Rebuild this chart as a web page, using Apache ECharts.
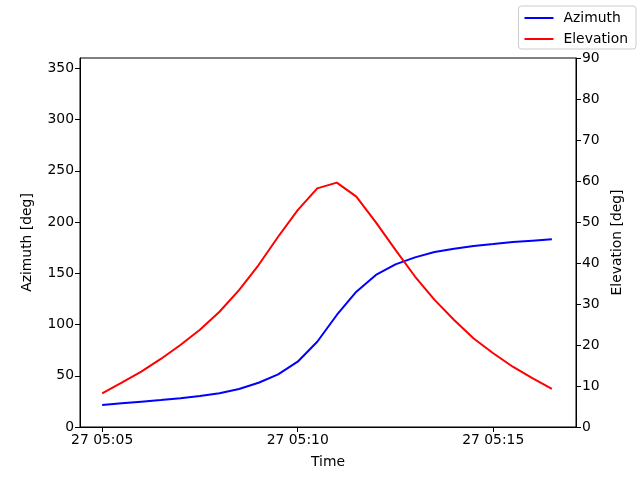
<!DOCTYPE html>
<html>
<head>
<meta charset="utf-8">
<script src="https://cdn.jsdelivr.net/npm/echarts@6/dist/echarts.min.js"></script>
<style>html,body{margin:0;padding:0;background:#fff}#c{width:640px;height:480px}</style>
</head>
<body>
<div id="c"></div>
<script>
const times = ["05:05:00","05:05:30","05:06:00","05:06:30","05:07:00","05:07:30","05:08:00","05:08:30",
  "05:09:00","05:09:30","05:10:00","05:10:30","05:11:00","05:11:30","05:12:00","05:12:30",
  "05:13:00","05:13:30","05:14:00","05:14:30","05:15:00","05:15:30","05:16:00","05:16:30"];
const azimuth = [21.5,23.1,24.7,26.3,28.0,30.2,32.9,37.1,43.2,51.4,63.7,83.2,
  109.3,132.0,148.3,158.7,165.5,170.7,174.0,176.6,178.5,180.5,181.8,183.1];
const elevation = [8.2,10.8,13.5,16.6,20.0,23.7,28.1,33.4,39.5,46.4,52.9,58.2,
  59.6,56.2,49.9,43.2,36.7,31.0,26.1,21.6,18.0,14.7,11.9,9.3];
const xTickTimes = ["05:05:00","05:10:00","05:15:00"];
const leftTicks = [0,50,100,150,200,250,300,350];

function toSec(t){const p=t.split(':').map(Number);return p[0]*3600+p[1]*60+p[2];}
function fmt(s){const h=Math.floor(s/3600),m=Math.floor((s%3600)/60);return '27 '+String(h).padStart(2,'0')+':'+String(m).padStart(2,'0');}

const xs = times.map(toSec);
const xTicks = xTickTimes.map(toSec);
const FONT = 'DejaVu Sans';
const fs = 13.9;

const chart = echarts.init(document.getElementById('c'), null, {renderer:'canvas'});
chart.setOption({
  animation:false,
  backgroundColor:'#fff',
  textStyle:{fontFamily:FONT},
  grid:{left:80,right:64,top:58,bottom:53,show:true,borderColor:'#000',borderWidth:1,backgroundColor:'transparent'},
  legend:{
    orient:'vertical', right:4, top:6,
    padding:[5,8,3,5], itemGap:7, itemWidth:29, itemHeight:14,
    borderColor:'#cccccc', borderWidth:1, borderRadius:3, backgroundColor:'#fff',
    itemStyle:{opacity:0},
    textStyle:{fontFamily:FONT,fontSize:fs,color:'#000',padding:[0,0,0,5]},
    data:['Azimuth','Elevation']
  },
  xAxis:{
    type:'value', min:toSec("05:04:26"), max:toSec("05:17:07"),
    name:'Time', nameLocation:'middle', nameGap:28,
    nameTextStyle:{fontFamily:FONT,fontSize:fs,color:'#000'},
    splitLine:{show:false},
    axisLine:{lineStyle:{color:'#000',width:1}},
    axisTick:{customValues:xTicks,length:5,lineStyle:{color:'#000'}},
    axisLabel:{customValues:xTicks,formatter:v=>fmt(v),fontFamily:FONT,fontSize:fs,color:'#000',margin:6}
  },
  yAxis:[{
    type:'value', min:0, max:360, position:'left',
    name:'Azimuth [deg]', nameLocation:'middle', nameGap:46, nameRotate:90,
    nameTextStyle:{fontFamily:FONT,fontSize:fs,color:'#000'},
    splitLine:{show:false},
    axisLine:{show:true,lineStyle:{color:'#000',width:1}},
    axisTick:{show:true,customValues:leftTicks,length:5,lineStyle:{color:'#000'}},
    axisLabel:{customValues:leftTicks,fontFamily:FONT,fontSize:fs,color:'#000',margin:6}
  },{
    type:'value', min:0, max:90, interval:10, position:'right', z:6,
    name:'Elevation [deg]', nameLocation:'middle', nameGap:31, nameRotate:90,
    nameTextStyle:{fontFamily:FONT,fontSize:fs,color:'#000'},
    splitLine:{show:false},
    axisLine:{show:true,lineStyle:{color:'#000',width:1}},
    axisTick:{show:true,length:5,lineStyle:{color:'#000'}},
    axisLabel:{fontFamily:FONT,fontSize:fs,color:'#000',margin:6}
  }],
  series:[{
    name:'Azimuth', type:'line', yAxisIndex:0, symbol:'none',
    lineStyle:{color:'#0000ff',width:2}, itemStyle:{color:'#0000ff'},
    data:xs.map((x,i)=>[x,azimuth[i]])
  },{
    name:'Elevation', type:'line', yAxisIndex:1, symbol:'none',
    lineStyle:{color:'#ff0000',width:2}, itemStyle:{color:'#ff0000'},
    data:xs.map((x,i)=>[x,elevation[i]])
  }]
});
</script>
</body>
</html>
